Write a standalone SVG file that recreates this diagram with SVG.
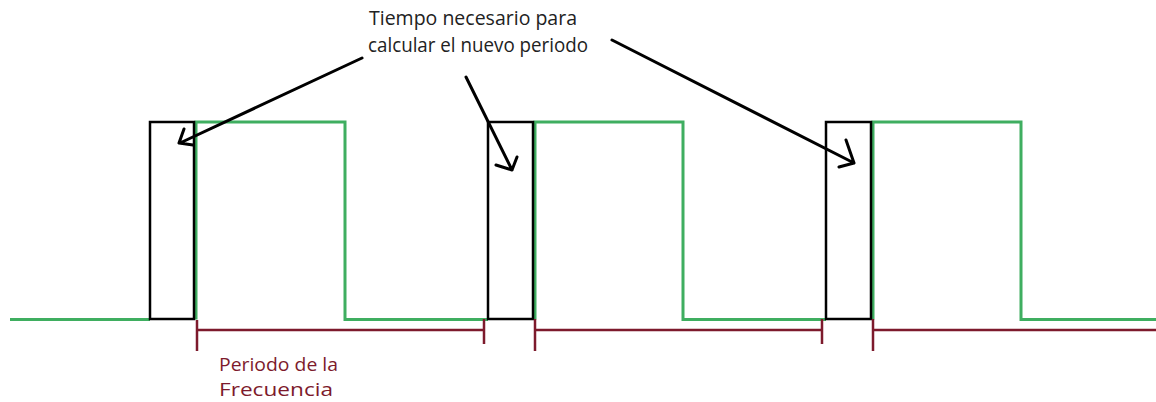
<svg xmlns="http://www.w3.org/2000/svg" width="1156" height="402" viewBox="0 0 1156 402">
<style>
.sig{fill:none;stroke:#3fae60;stroke-width:3;stroke-linejoin:miter}
.box{fill:none;stroke:#000;stroke-width:2.5}
.per{fill:none;stroke:#7d1a2c;stroke-width:2.5}
.arr{fill:none;stroke:#000;stroke-width:3;stroke-linecap:round;stroke-linejoin:round}
.t{font-family:"Open Sans","Liberation Sans",sans-serif;font-size:20px;fill:#222}
.r{font-family:"Open Sans","Liberation Sans",sans-serif;font-size:19px;fill:#7d1a2c}
</style>
<rect width="1156" height="402" fill="#fff"/>
<g id="signal">
<path class="sig" d="M10,319.5 H150 M196,319.5 V122 H345 V319.5 H488 M535,319.5 V122 H683 V319.5 H826 M873,319.5 V122 H1021 V319.5 H1156"/>
</g>
<g id="box1"><rect class="box" x="150" y="122" width="44" height="197"/></g>
<g id="box2"><rect class="box" x="488" y="122" width="45" height="197"/></g>
<g id="box3"><rect class="box" x="826" y="122" width="45" height="197"/></g>
<g id="period">
<path class="per" d="M197,330 H484 M197,320 V351 M484,319 V344 M535,330 H822 M535,319 V351 M822,319 V344 M873,330 H1156 M873,319 V351"/>
</g>
<g id="connectors">
<path class="arr" d="M362,58 L180,143 M184,129 L179,143 L193,145"/>
<path class="arr" d="M466,77 L512,170 M517,157 L512,170 L496,165"/>
<path class="arr" d="M612,40 L854,163 M846,140 L854,163 L839,167"/>
</g>
<g id="label">
<text class="t" x="369" y="25" textLength="208" lengthAdjust="spacingAndGlyphs">Tiempo necesario para</text>
<text class="t" x="368" y="52" textLength="220" lengthAdjust="spacingAndGlyphs">calcular el nuevo periodo</text>
</g>
<g id="period-label">
<text class="r" x="219" y="371" textLength="119" lengthAdjust="spacingAndGlyphs">Periodo de la</text>
<text class="r" x="219" y="396" textLength="114" lengthAdjust="spacingAndGlyphs">Frecuencia</text>
</g>
</svg>
